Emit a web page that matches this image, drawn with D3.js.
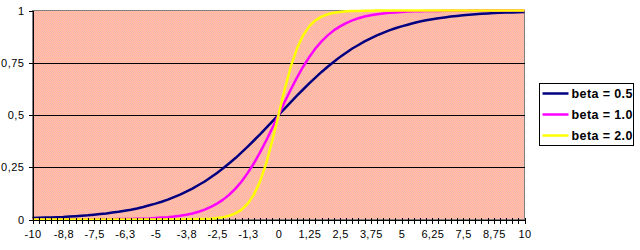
<!DOCTYPE html>
<html>
<head>
<meta charset="utf-8">
<script src="https://cdn.jsdelivr.net/npm/d3@7"></script>
<style>
  body { margin: 0; background: #fff; }
  svg { display: block; font-family: "Liberation Sans", Arial, sans-serif; }
</style>
</head>
<body>
<div class="chart"></div>
<script>
// x categories, step 0.25
const categories = [
  -10, -9.75, -9.5, -9.25, -9, -8.75, -8.5, -8.25, -8, -7.75,
  -7.5, -7.25, -7, -6.75, -6.5, -6.25, -6, -5.75, -5.5, -5.25,
  -5, -4.75, -4.5, -4.25, -4, -3.75, -3.5, -3.25, -3, -2.75,
  -2.5, -2.25, -2, -1.75, -1.5, -1.25, -1, -0.75, -0.5, -0.25,
  0, 0.25, 0.5, 0.75, 1, 1.25, 1.5, 1.75, 2, 2.25,
  2.5, 2.75, 3, 3.25, 3.5, 3.75, 4, 4.25, 4.5, 4.75,
  5, 5.25, 5.5, 5.75, 6, 6.25, 6.5, 6.75, 7, 7.25,
  7.5, 7.75, 8, 8.25, 8.5, 8.75, 9, 9.25, 9.5, 9.75, 10
]

const xTickLabels = ["-10", "-8,8", "-7,5", "-6,3", "-5", "-3,8", "-2,5", "-1,3", "0",
  "1,25", "2,5", "3,75", "5", "6,25", "7,5", "8,75", "10"]
const yTickValues = [0, 0.25, 0.5, 0.75, 1]
const yTickLabels = ["0", "0,25", "0,5", "0,75", "1"]

const beta05 = [
  0.007, 0.008, 0.009, 0.010, 0.011, 0.012, 0.014, 0.016, 0.018, 0.020,
  0.023, 0.026, 0.029, 0.033, 0.037, 0.042, 0.047, 0.053, 0.060, 0.068,
  0.076, 0.085, 0.095, 0.107, 0.119, 0.133, 0.148, 0.165, 0.182, 0.202,
  0.223, 0.245, 0.269, 0.294, 0.321, 0.349, 0.378, 0.407, 0.438, 0.469,
  0.500, 0.531, 0.562, 0.593, 0.622, 0.651, 0.679, 0.706, 0.731, 0.755,
  0.777, 0.798, 0.818, 0.835, 0.852, 0.867, 0.881, 0.893, 0.905, 0.915,
  0.924, 0.932, 0.940, 0.947, 0.953, 0.958, 0.963, 0.967, 0.971, 0.974,
  0.977, 0.980, 0.982, 0.984, 0.986, 0.988, 0.989, 0.990, 0.991, 0.992, 0.993
]
const beta10 = [
  0.000, 0.000, 0.000, 0.000, 0.000, 0.000, 0.000, 0.000, 0.000, 0.000,
  0.001, 0.001, 0.001, 0.001, 0.002, 0.002, 0.002, 0.003, 0.004, 0.005,
  0.007, 0.009, 0.011, 0.014, 0.018, 0.023, 0.029, 0.037, 0.047, 0.060,
  0.076, 0.095, 0.119, 0.148, 0.182, 0.223, 0.269, 0.321, 0.378, 0.438,
  0.500, 0.562, 0.622, 0.679, 0.731, 0.777, 0.818, 0.852, 0.881, 0.905,
  0.924, 0.940, 0.953, 0.963, 0.971, 0.977, 0.982, 0.986, 0.989, 0.991,
  0.993, 0.995, 0.996, 0.997, 0.998, 0.998, 0.998, 0.999, 0.999, 0.999,
  0.999, 1.000, 1.000, 1.000, 1.000, 1.000, 1.000, 1.000, 1.000, 1.000, 1.000
]
const beta20 = [
  0.000, 0.000, 0.000, 0.000, 0.000, 0.000, 0.000, 0.000, 0.000, 0.000,
  0.000, 0.000, 0.000, 0.000, 0.000, 0.000, 0.000, 0.000, 0.000, 0.000,
  0.000, 0.000, 0.000, 0.000, 0.000, 0.001, 0.001, 0.002, 0.002, 0.004,
  0.007, 0.011, 0.018, 0.029, 0.047, 0.076, 0.119, 0.182, 0.269, 0.378,
  0.500, 0.622, 0.731, 0.818, 0.881, 0.924, 0.953, 0.971, 0.982, 0.989,
  0.993, 0.996, 0.998, 0.998, 0.999, 0.999, 1.000, 1.000, 1.000, 1.000,
  1.000, 1.000, 1.000, 1.000, 1.000, 1.000, 1.000, 1.000, 1.000, 1.000,
  1.000, 1.000, 1.000, 1.000, 1.000, 1.000, 1.000, 1.000, 1.000, 1.000, 1.000
]

const seriesNames = ["beta = 0.5", "beta = 1.0", "beta = 2.0"]
const seriesColors = ["#000080", "#ff00ff", "#ffff00"]
const seriesValues = [beta05, beta10, beta20]

const width = 640
const height = 250
const plot = { left: 32.5, right: 524.5, top: 10.5, bottom: 219.5 }

const svg = d3.select(".chart")
  .append("svg")
  .attr("width", width)
  .attr("height", height)

// dithered Excel-style fill
const pattern = svg.append("defs")
  .append("pattern")
  .attr("id", "dither")
  .attr("patternUnits", "userSpaceOnUse")
  .attr("width", 2)
  .attr("height", 2)
pattern.append("rect").attr("width", 2).attr("height", 2).attr("fill", "#ffa8b8")
pattern.append("rect").attr("width", 1).attr("height", 1).attr("fill", "#ffcc99")
pattern.append("rect").attr("x", 1).attr("y", 1).attr("width", 1).attr("height", 1).attr("fill", "#ffcc99")

const x = d3.scalePoint()
  .domain(categories)
  .range([plot.left, plot.right])

const y = d3.scaleLinear()
  .domain([0, 1])
  .range([plot.bottom, plot.top])

svg.append("rect")
  .attr("x", plot.left)
  .attr("y", plot.top)
  .attr("width", plot.right - plot.left)
  .attr("height", plot.bottom - plot.top)
  .attr("fill", "url(#dither)")
  .attr("stroke", "#808080")
  .attr("shape-rendering", "crispEdges")

// gridlines
svg.append("g")
  .selectAll("line")
  .data(yTickValues.slice(1, 4))
  .join("line")
  .attr("x1", plot.left)
  .attr("x2", plot.right)
  .attr("y1", d => Math.round(y(d)) + 0.5)
  .attr("y2", d => Math.round(y(d)) + 0.5)
  .attr("stroke", "#000")
  .attr("shape-rendering", "crispEdges")

const lineGenerator = d3.line()
  .x((d, i) => x(categories[i]))
  .y(d => y(d))

svg.append("g")
  .selectAll("path")
  .data(seriesValues)
  .join("path")
  .attr("d", d => lineGenerator(d))
  .attr("fill", "none")
  .attr("stroke", (d, i) => seriesColors[i])
  .attr("stroke-width", 2.5)
  .attr("stroke-linejoin", "round")

// x axis
const xAxis = d3.axisBottom(x)
  .tickValues(categories)
  .tickSize(4)
  .tickFormat((d, i) => i % 5 === 0 ? xTickLabels[i / 5] : "")

const xg = svg.append("g")
  .attr("transform", `translate(0,${plot.bottom})`)
  .call(xAxis)
xg.select(".domain").attr("stroke", "#000").attr("shape-rendering", "crispEdges")
xg.selectAll(".tick line")
  .attr("y1", -2)
  .attr("stroke", "#000")
  .attr("shape-rendering", "crispEdges")
xg.selectAll(".tick text")
  .attr("y", 11)
  .attr("font-size", 11)
  .attr("font-family", "'Liberation Sans', Arial, sans-serif")
  .attr("letter-spacing", 0.3)
  .attr("fill", "#000")

// y axis
const yAxis = d3.axisLeft(y)
  .tickValues(yTickValues)
  .tickSize(4)
  .tickPadding(4)
  .tickFormat((d, i) => yTickLabels[i])

const yg = svg.append("g")
  .attr("transform", `translate(${plot.left},0)`)
  .call(yAxis)
yg.select(".domain").attr("stroke", "#000").attr("shape-rendering", "crispEdges")
yg.selectAll(".tick line").attr("stroke", "#000").attr("shape-rendering", "crispEdges")
yg.selectAll(".tick text")
  .attr("font-size", 11)
  .attr("font-family", "'Liberation Sans', Arial, sans-serif")
  .attr("letter-spacing", 0.5)
  .attr("fill", "#000")

// legend
const legend = svg.append("g")
  .attr("transform", "translate(539.5,83.5)")

legend.append("rect")
  .attr("width", 94)
  .attr("height", 62)
  .attr("fill", "#fff")
  .attr("stroke", "#000")
  .attr("shape-rendering", "crispEdges")

const items = legend.selectAll(".item")
  .data(seriesNames)
  .join("g")
  .attr("class", "item")
  .attr("transform", (d, i) => `translate(0,${10 + i * 21})`)

items.append("line")
  .attr("x1", 3)
  .attr("x2", 29)
  .attr("stroke", (d, i) => seriesColors[i])
  .attr("stroke-width", 2.5)

items.append("text")
  .attr("x", 32)
  .attr("dy", "0.36em")
  .attr("font-size", 12.5)
  .attr("font-weight", "bold")
  .attr("letter-spacing", 0.4)
  .text(d => d)
</script>
</body>
</html>
